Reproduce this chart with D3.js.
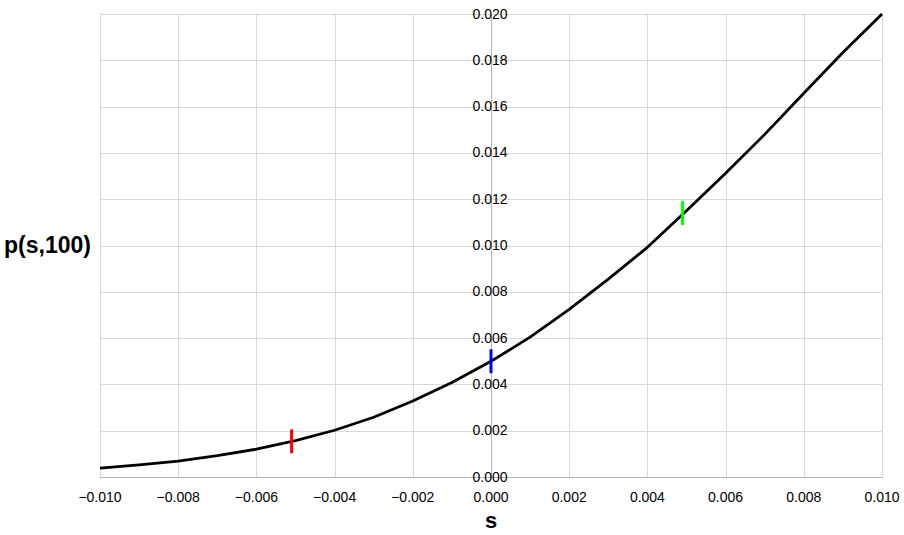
<!DOCTYPE html>
<html>
<head>
<meta charset="utf-8">
<script src="https://cdn.jsdelivr.net/npm/d3@7/dist/d3.min.js"></script>
<style>
    body { margin: 0; background: #fff; }
    text { font-family: "Liberation Sans", Arial, sans-serif; fill: #000; }
</style>
</head>
<body>
<svg id="chart" width="904" height="535"></svg>
<script>
// Selection coefficient s and p(s,100)
const sValues = [-0.010, -0.009, -0.008, -0.007, -0.006, -0.005, -0.004, -0.003, -0.002, -0.001,
                 0.000, 0.001, 0.002, 0.003, 0.004, 0.005, 0.006, 0.007, 0.008, 0.009, 0.010];
const pValues = [0.00038, 0.00052, 0.00069, 0.00092, 0.00120, 0.00157, 0.00202, 0.00258, 0.00328, 0.00408,
                 0.00500, 0.00604, 0.00724, 0.00855, 0.00992, 0.01150, 0.01312, 0.01480, 0.01658, 0.01834, 0.02000];

const xTicks = [-0.010, -0.008, -0.006, -0.004, -0.002, 0.000, 0.002, 0.004, 0.006, 0.008, 0.010];
const yTicks = [0.000, 0.002, 0.004, 0.006, 0.008, 0.010, 0.012, 0.014, 0.016, 0.018, 0.020];

// short vertical markers on the curve
const markS = [-0.0051, 0.0000, 0.0049];
const markP = [0.00154, 0.00500, 0.01140];
const markColors = ['#ff0000', '#0000ff', '#00ff00'];

const svg = d3.select('#chart');
const plotLeft = 100, plotRight = 882, plotTop = 14, plotBottom = 477;

const x = d3.scaleLinear().domain([-0.010, 0.010]).range([plotLeft, plotRight]);
const y = d3.scaleLinear().domain([0, 0.020]).range([plotBottom, plotTop]);
const fmt = d3.format('.3f');
const snap = v => Math.round(v) + 0.5;

// Grid
const grid = svg.append('g').attr('class', 'grid');
grid.selectAll('line.v')
    .data(xTicks)
    .enter()
    .append('line')
    .attr('x1', d => snap(x(d))).attr('x2', d => snap(x(d)))
    .attr('y1', plotTop).attr('y2', plotBottom)
    .attr('stroke', d => d === 0 ? '#b3b3b3' : '#d9d9d9')
    .attr('stroke-width', 1);
grid.selectAll('line.h')
    .data(yTicks)
    .enter()
    .append('line')
    .attr('x1', plotLeft).attr('x2', plotRight + 1)
    .attr('y1', d => snap(y(d))).attr('y2', d => snap(y(d)))
    .attr('stroke', d => d === 0 ? '#b3b3b3' : '#d9d9d9')
    .attr('stroke-width', 1);

// Tick labels
svg.append('g')
    .selectAll('text')
    .data(xTicks)
    .enter()
    .append('text')
    .attr('x', d => x(d))
    .attr('y', plotBottom + 25)
    .attr('text-anchor', 'middle')
    .style('font-size', '14px')
    .text(d => fmt(d));

svg.append('g')
    .selectAll('text')
    .data(yTicks)
    .enter()
    .append('text')
    .attr('x', x(0) - 1)
    .attr('y', d => y(d) + 4.5)
    .attr('text-anchor', 'middle')
    .style('font-size', '14px')
    .text(d => fmt(d));

// Curve (straight segments between the points)
const line = d3.line()
    .x((d, i) => x(sValues[i]))
    .y(d => y(d));

svg.append('path')
    .datum(pValues)
    .attr('d', line)
    .attr('fill', 'none')
    .attr('stroke', '#000')
    .attr('stroke-width', 2.8)
    .attr('stroke-linejoin', 'round');

// Markers
svg.append('g')
    .selectAll('line')
    .data(markS)
    .enter()
    .append('line')
    .attr('x1', d => x(d)).attr('x2', d => x(d))
    .attr('y1', (d, i) => y(markP[i]) - 12)
    .attr('y2', (d, i) => y(markP[i]) + 12)
    .attr('stroke', (d, i) => markColors[i])
    .attr('stroke-width', 3);

// Axis titles
svg.append('text')
    .attr('x', x(0))
    .attr('y', 528)
    .attr('text-anchor', 'middle')
    .style('font-size', '22px')
    .style('font-weight', 'bold')
    .text('s');

svg.append('text')
    .attr('x', 4)
    .attr('y', 253)
    .style('font-size', '23px')
    .style('font-weight', 'bold')
    .text('p(s,100)');
</script>
</body>
</html>
